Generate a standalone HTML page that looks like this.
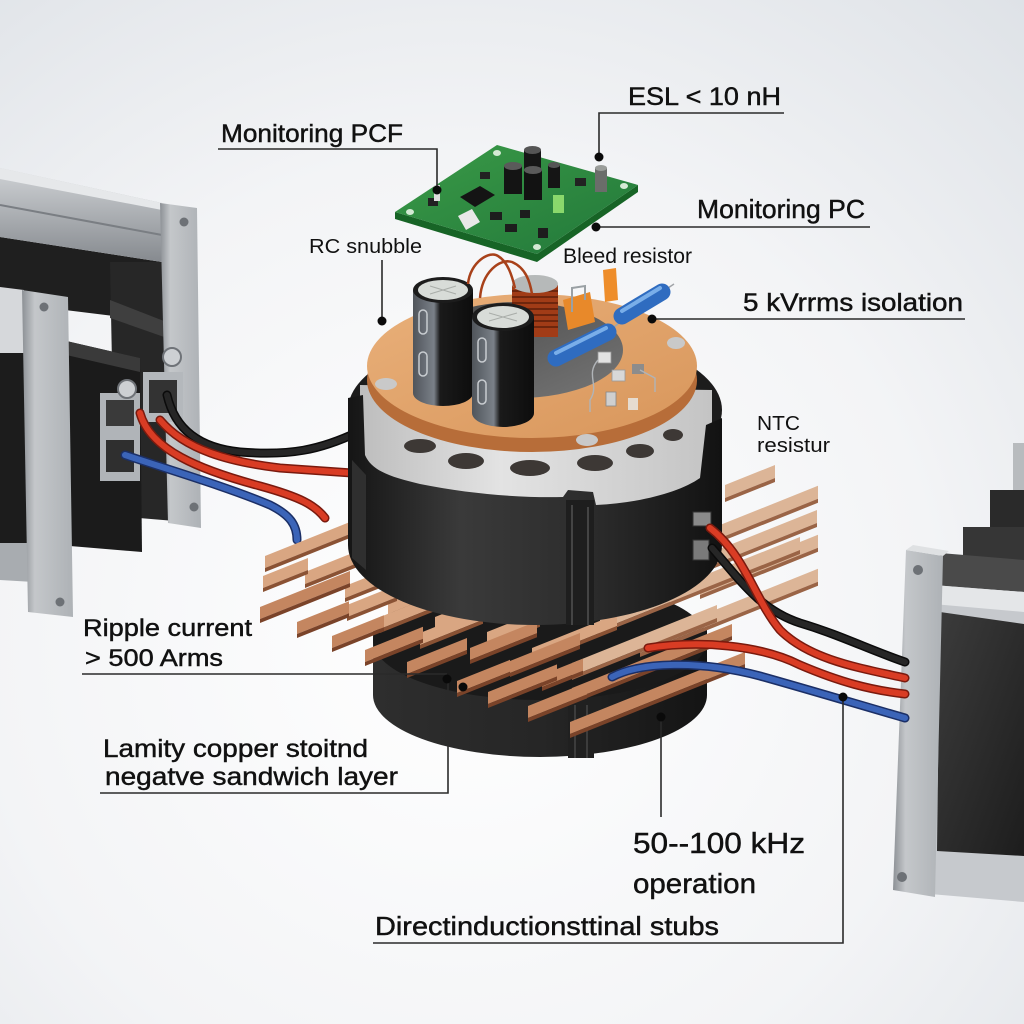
<!DOCTYPE html>
<html><head><meta charset="utf-8">
<style>
html,body{margin:0;padding:0;width:1024px;height:1024px;overflow:hidden;background:#f3f4f6;}
svg{display:block;}
text{font-family:"Liberation Sans",Arial,sans-serif;fill:#111;}
</style></head><body>
<svg width="1024" height="1024" viewBox="0 0 1024 1024" xmlns="http://www.w3.org/2000/svg">
<defs>
<radialGradient id="bg" cx="0.45" cy="0.62" r="0.85">
 <stop offset="0" stop-color="#ffffff"/>
 <stop offset="0.55" stop-color="#f3f4f6"/>
 <stop offset="1" stop-color="#dde1e6"/>
</radialGradient>
<linearGradient id="rail" x1="0" y1="0" x2="0" y2="1">
 <stop offset="0" stop-color="#d0d3d6"/><stop offset="1" stop-color="#868a8f"/>
</linearGradient>
<linearGradient id="plate" x1="0" y1="0" x2="1" y2="0">
 <stop offset="0" stop-color="#8c9095"/><stop offset="0.25" stop-color="#c4c7ca"/><stop offset="1" stop-color="#aeb2b6"/>
</linearGradient>
<linearGradient id="band" x1="0" y1="0" x2="1" y2="0">
 <stop offset="0" stop-color="#151515"/><stop offset="0.3" stop-color="#3a3a3a"/><stop offset="0.65" stop-color="#2c2c2c"/><stop offset="1" stop-color="#121212"/>
</linearGradient>
<linearGradient id="lower" x1="0" y1="0" x2="1" y2="0">
 <stop offset="0" stop-color="#2e2e2e"/><stop offset="0.5" stop-color="#262626"/><stop offset="1" stop-color="#141414"/>
</linearGradient>
<linearGradient id="foam" x1="0" y1="0" x2="1" y2="0">
 <stop offset="0" stop-color="#bdbdbd"/><stop offset="0.4" stop-color="#e3e3e3"/><stop offset="1" stop-color="#c4c4c4"/>
</linearGradient>
<linearGradient id="ring" x1="0" y1="0" x2="1" y2="1">
 <stop offset="0" stop-color="#e9b07a"/><stop offset="1" stop-color="#d8965b"/>
</linearGradient>
<linearGradient id="hole" x1="0" y1="0" x2="1" y2="1">
 <stop offset="0" stop-color="#474747"/><stop offset="1" stop-color="#767676"/>
</linearGradient>
<linearGradient id="pcb" x1="0" y1="0" x2="1" y2="1">
 <stop offset="0" stop-color="#3a9a47"/><stop offset="1" stop-color="#22783a"/>
</linearGradient>
<linearGradient id="cap" x1="0" y1="0" x2="1" y2="0">
 <stop offset="0" stop-color="#50555b"/><stop offset="0.35" stop-color="#7a8088"/><stop offset="0.45" stop-color="#1a1a1a"/><stop offset="1" stop-color="#0d0d0d"/>
</linearGradient>
<linearGradient id="panel" x1="0" y1="0" x2="1" y2="1">
 <stop offset="0" stop-color="#3c3c3c"/><stop offset="1" stop-color="#1d1d1d"/>
</linearGradient>
<g id="barA"><path d="M0,0 L1,0 L1,12 L0,12 Z" fill="#d9a682"/><path d="M0,12 L1,12 L1,16 L0,16 Z" fill="#8a5234"/></g>
<g id="barB"><path d="M0,0 L1,0 L1,12 L0,12 Z" fill="#c48660"/><path d="M0,12 L1,12 L1,16 L0,16 Z" fill="#7a4329"/></g>
<g id="barC"><path d="M0,0 L1,0 L1,13 L0,13 Z" fill="#dcb597"/><path d="M0,13 L1,13 L1,17 L0,17 Z" fill="#9a6446"/></g>
</defs>

<rect width="1024" height="1024" fill="url(#bg)"/>

<!-- LEFT EQUIPMENT -->
<polygon points="0,237 162,262 162,322 0,302" fill="#1f1f1f"/>
<polygon points="0,168 162,203 162,262 0,237" fill="url(#rail)"/>
<polygon points="0,168 162,203 162,210 0,179" fill="#e6e8ea"/>
<line x1="0" y1="205" x2="162" y2="235" stroke="#7a7e83" stroke-width="2"/>
<polygon points="0,287 24,290 24,353 0,353" fill="#d6d8db"/>
<polygon points="0,353 30,353 30,543 0,543" fill="#1c1c1c"/>
<polygon points="0,543 34,543 34,582 0,580" fill="#a8acb0"/>
<polygon points="110,262 162,262 187,330 187,522 115,516" fill="#272727"/>
<polygon points="110,300 187,330 187,345 110,318" fill="#3f3f3f"/>
<polygon points="160,203 197,208 201,528 168,523" fill="url(#plate)"/>
<circle cx="184" cy="222" r="4.5" fill="#6d7176"/>
<circle cx="194" cy="507" r="4.5" fill="#6d7176"/>
<polygon points="62,340 140,358 142,552 70,546" fill="#1b1b1b"/>
<polygon points="62,340 140,358 140,372 62,354" fill="#3a3a3a"/>
<polygon points="22,290 68,297 73,617 28,612" fill="url(#plate)"/>
<circle cx="44" cy="307" r="4.5" fill="#6d7176"/>
<circle cx="60" cy="602" r="4.5" fill="#6d7176"/>
<rect x="100" y="393" width="40" height="88" fill="#b0b4b8"/>
<rect x="106" y="400" width="28" height="26" fill="#3a3a3a"/>
<rect x="106" y="440" width="28" height="32" fill="#2f2f2f"/>
<rect x="143" y="372" width="40" height="50" fill="#b4b8bc"/>
<rect x="149" y="380" width="28" height="33" fill="#333"/>
<circle cx="127" cy="389" r="9" fill="#cdd0d3" stroke="#6f7378" stroke-width="2"/>
<circle cx="172" cy="357" r="9" fill="#cdd0d3" stroke="#6f7378" stroke-width="2"/>

<!-- RIGHT EQUIPMENT -->
<rect x="1013" y="443" width="11" height="48" fill="#b8bbbe"/>
<polygon points="990,490 1024,490 1024,540 990,535" fill="#2a2a2a"/>
<polygon points="963,527 1024,527 1024,572 963,566" fill="#363636"/>
<polygon points="940,553 1024,560 1024,592 940,586" fill="#4a4a4a"/>
<polygon points="933,585 1024,592 1024,902 930,894" fill="#c6c9cd"/>
<polygon points="933,585 1024,592 1024,612 933,604" fill="#e4e6e8"/>
<polygon points="940,612 1024,624 1024,856 937,851" fill="url(#panel)"/>
<polygon points="906,550 943,556 935,897 893,890" fill="url(#plate)"/>
<polygon points="906,550 943,556 949,551 913,545" fill="#dfe1e3"/>
<circle cx="918" cy="570" r="5" fill="#6d7176"/>
<circle cx="902" cy="877" r="5" fill="#6d7176"/>

<!-- LOWER CYLINDER -->
<path d="M373,630 L373,695 A167 62 0 0 0 707,695 L707,630 Z" fill="url(#lower)"/>
<ellipse cx="540" cy="640" rx="167" ry="60" fill="#1a1a1a"/>
<rect x="568" y="700" width="26" height="58" fill="#202020"/>
<line x1="575" y1="705" x2="575" y2="758" stroke="#3c3c3c" stroke-width="2"/>
<line x1="587" y1="705" x2="587" y2="758" stroke="#3c3c3c" stroke-width="2"/>

<!-- LEFT WIRES -->
<g fill="none" stroke-linecap="round">
<path d="M167,395 C175,430 200,448 240,452 C290,456 320,450 358,432" stroke="#0b0b0b" stroke-width="9"/>
<path d="M167,395 C175,430 200,448 240,452 C290,456 320,450 358,432" stroke="#262626" stroke-width="6"/>
<path d="M160,420 C185,450 230,462 280,468 L352,473" stroke="#7a1a0e" stroke-width="9"/>
<path d="M160,420 C185,450 230,462 280,468 L352,473" stroke="#d93c24" stroke-width="6"/>
<path d="M140,413 C150,450 200,470 260,486 C300,497 315,505 325,518" stroke="#7a1a0e" stroke-width="9"/>
<path d="M140,413 C150,450 200,470 260,486 C300,497 315,505 325,518" stroke="#d93c24" stroke-width="6"/>
<path d="M125,455 C170,470 230,488 270,505 C290,515 297,525 297,540" stroke="#1b2f66" stroke-width="9"/>
<path d="M125,455 C170,470 230,488 270,505 C290,515 297,525 297,540" stroke="#3b64b8" stroke-width="6"/>
</g>

<!-- COPPER BARS (matrix(L,-0.4L,0,1,x,y)) -->
<use href="#barC" transform="matrix(50,-20,0,1,725,485)"/>
<use href="#barC" transform="matrix(98,-39.2,0,1,720,525)"/>
<use href="#barA" transform="matrix(88,-35.2,0,1,265,556)"/>
<use href="#barC" transform="matrix(105,-42,0,1,712,552)"/>
<use href="#barA" transform="matrix(65,-26,0,1,305,572)"/>
<use href="#barA" transform="matrix(45,-18,0,1,263,576)"/>
<use href="#barC" transform="matrix(118,-47.2,0,1,700,582)"/>
<use href="#barA" transform="matrix(45,-18,0,1,345,586)"/>
<use href="#barA" transform="matrix(36,-14.4,0,1,388,602)"/>
<use href="#barB" transform="matrix(90,-36,0,1,260,607)"/>
<use href="#barA" transform="matrix(50,-20,0,1,347,605)"/>
<use href="#barC" transform="matrix(200,-80,0,1,600,617)"/>
<use href="#barA" transform="matrix(48,-19.2,0,1,435,617)"/>
<use href="#barA" transform="matrix(57,-22.8,0,1,380,617)"/>
<use href="#barB" transform="matrix(52,-20.8,0,1,297,622)"/>
<use href="#barA" transform="matrix(53,-21.2,0,1,487,632)"/>
<use href="#barA" transform="matrix(63,-25.2,0,1,420,633)"/>
<use href="#barB" transform="matrix(52,-20.8,0,1,332,636)"/>
<use href="#barC" transform="matrix(178,-71.2,0,1,640,640)"/>
<use href="#barA" transform="matrix(85,-34,0,1,532,648)"/>
<use href="#barB" transform="matrix(67,-26.8,0,1,470,648)"/>
<use href="#barB" transform="matrix(58,-23.2,0,1,365,650)"/>
<use href="#barB" transform="matrix(70,-28,0,1,510,661)"/>
<use href="#barB" transform="matrix(60,-24,0,1,407,662)"/>
<use href="#barC" transform="matrix(145,-58,0,1,572,663)"/>
<use href="#barB" transform="matrix(41,-16.4,0,1,542,675)"/>
<use href="#barB" transform="matrix(53,-21.2,0,1,457,681)"/>
<use href="#barB" transform="matrix(160,-64,0,1,572,688)"/>
<use href="#barB" transform="matrix(69,-27.6,0,1,488,692)"/>
<use href="#barB" transform="matrix(59,-23.6,0,1,528,706)"/>
<use href="#barB" transform="matrix(175,-70,0,1,570,722)"/>

<!-- UPPER CASING -->
<ellipse cx="535" cy="410" rx="187" ry="80" fill="#1c1c1c"/>
<path d="M360,385 L360,470 A176 42 0 0 0 712,470 L712,390 Z" fill="url(#foam)"/>
<ellipse cx="420" cy="446" rx="16" ry="7" fill="#3d3835"/>
<ellipse cx="466" cy="461" rx="18" ry="8" fill="#3d3835"/>
<ellipse cx="530" cy="468" rx="20" ry="8" fill="#3d3835"/>
<ellipse cx="595" cy="463" rx="18" ry="8" fill="#3d3835"/>
<ellipse cx="640" cy="451" rx="14" ry="7" fill="#3d3835"/>
<ellipse cx="673" cy="435" rx="10" ry="6" fill="#3d3835"/>
<path d="M348,398 L363,395 L365,455 C372,472 395,478 420,484 C470,494 520,498 563,497 L568,490 L593,492 L596,505 C640,503 680,492 700,478 L706,425 L722,418 L722,545 A187 80 0 0 1 348,545 Z" fill="url(#band)"/>
<path d="M352,460 L366,475 L366,570 L352,558 Z" fill="#2f2f2f"/>
<rect x="566" y="500" width="28" height="125" fill="#1e1e1e"/>
<line x1="572" y1="505" x2="572" y2="625" stroke="#444" stroke-width="2"/>
<line x1="588" y1="507" x2="588" y2="625" stroke="#444" stroke-width="2"/>

<!-- ORANGE RING -->
<ellipse cx="532" cy="380" rx="165" ry="72" fill="#b76d39"/>
<ellipse cx="532" cy="366" rx="165" ry="72" fill="url(#ring)"/>
<ellipse cx="386" cy="384" rx="11" ry="6" fill="#c9c9c9"/>
<ellipse cx="676" cy="343" rx="9" ry="6" fill="#c9c9c9"/>
<ellipse cx="587" cy="440" rx="11" ry="6" fill="#c9c9c9"/>
<ellipse cx="518" cy="350" rx="105" ry="48" fill="url(#hole)"/>

<!-- components on ring -->
<rect x="512" y="285" width="46" height="52" fill="#a13c17"/>
<g stroke="#5e1e0a" stroke-width="1.6">
<line x1="512" y1="291" x2="558" y2="291"/><line x1="512" y1="297" x2="558" y2="297"/><line x1="512" y1="303" x2="558" y2="303"/><line x1="512" y1="309" x2="558" y2="309"/><line x1="512" y1="315" x2="558" y2="315"/><line x1="512" y1="321" x2="558" y2="321"/><line x1="512" y1="327" x2="558" y2="327"/>
</g>
<ellipse cx="535" cy="284" rx="23" ry="9" fill="#b6b9b9"/>
<polygon points="563,300 590,292 595,322 568,330" fill="#e8892a"/>
<polygon points="603,270 616,268 618,300 605,302" fill="#ee8d2a"/>
<path d="M572,312 L572,288 L585,286 L585,300" fill="none" stroke="#9aa0a4" stroke-width="2"/>
<!-- cap 1 -->
<path d="M413,290 L413,393 A30 13 0 0 0 473,393 L473,290 Z" fill="url(#cap)"/>
<ellipse cx="443" cy="290" rx="30" ry="13" fill="#1c1c1c"/>
<ellipse cx="443" cy="290" rx="25" ry="10" fill="#d8dcd8"/>
<line x1="430" y1="286" x2="456" y2="294" stroke="#a9ada9" stroke-width="1"/>
<line x1="430" y1="294" x2="456" y2="286" stroke="#a9ada9" stroke-width="1"/>
<rect x="419" y="310" width="8" height="24" rx="4" fill="none" stroke="#c8ccd0" stroke-width="1.5"/>
<rect x="419" y="352" width="8" height="24" rx="4" fill="none" stroke="#c8ccd0" stroke-width="1.5"/>
<!-- cap 2 -->
<path d="M472,317 L472,413 A31 14 0 0 0 534,413 L534,317 Z" fill="url(#cap)"/>
<ellipse cx="503" cy="317" rx="31" ry="14" fill="#1c1c1c"/>
<ellipse cx="503" cy="317" rx="26" ry="11" fill="#d8dcd8"/>
<line x1="489" y1="313" x2="517" y2="321" stroke="#a9ada9" stroke-width="1"/>
<line x1="489" y1="321" x2="517" y2="313" stroke="#a9ada9" stroke-width="1"/>
<rect x="478" y="338" width="8" height="24" rx="4" fill="none" stroke="#c8ccd0" stroke-width="1.5"/>
<rect x="478" y="380" width="8" height="24" rx="4" fill="none" stroke="#c8ccd0" stroke-width="1.5"/>
<!-- blue resistors -->
<line x1="610" y1="330" x2="628" y2="316" stroke="#a0a4a8" stroke-width="1.5"/>
<line x1="662" y1="292" x2="674" y2="284" stroke="#a0a4a8" stroke-width="1.5"/>
<line x1="622" y1="316" x2="662" y2="292" stroke="#2f6cc0" stroke-width="17" stroke-linecap="round"/>
<line x1="622" y1="311" x2="660" y2="288" stroke="#79aee9" stroke-width="4" stroke-linecap="round"/>
<line x1="556" y1="358" x2="608" y2="332" stroke="#2f6cc0" stroke-width="17" stroke-linecap="round"/>
<line x1="556" y1="353" x2="606" y2="328" stroke="#79aee9" stroke-width="4" stroke-linecap="round"/>
<!-- small white parts -->
<rect x="598" y="352" width="13" height="11" fill="#e2e2e2" stroke="#999" stroke-width="0.8"/>
<rect x="612" y="370" width="13" height="11" fill="#d8d8d8" stroke="#999" stroke-width="0.8"/>
<rect x="632" y="364" width="12" height="10" fill="#8c8c8c"/>
<rect x="606" y="392" width="10" height="14" fill="#cfcfcf" stroke="#888" stroke-width="0.8"/>
<rect x="628" y="398" width="10" height="12" fill="#e6dcd0"/>
<path d="M598,360 C585,375 600,385 590,400 L590,412" fill="none" stroke="#b0b4b8" stroke-width="1.4"/>
<path d="M640,370 L655,378 L655,392" fill="none" stroke="#b0b4b8" stroke-width="1.4"/>
<!-- copper wire loops -->
<path d="M468,284 C470,262 490,250 498,256 C508,262 512,276 515,288" fill="none" stroke="#a8411a" stroke-width="2.5"/>
<path d="M480,298 C482,272 500,258 512,262 C526,268 530,282 532,294" fill="none" stroke="#a8411a" stroke-width="2.5"/>

<!-- PCB -->
<polygon points="395,212 537,254 638,185 638,192 537,262 395,219" fill="#176426"/>
<polygon points="395,212 497,145 638,185 537,254" fill="url(#pcb)"/>
<ellipse cx="410" cy="212" rx="4" ry="3" fill="#d4ead4"/>
<ellipse cx="497" cy="153" rx="4" ry="3" fill="#d4ead4"/>
<ellipse cx="624" cy="186" rx="4" ry="3" fill="#d4ead4"/>
<ellipse cx="537" cy="247" rx="4" ry="3" fill="#d4ead4"/>
<polygon points="460,197 480,186 495,195 475,207" fill="#141414"/>
<polygon points="458,216 472,209 480,222 466,230" fill="#e8e8e8"/>
<rect x="428" y="198" width="10" height="8" fill="#222"/>
<rect x="490" y="212" width="12" height="8" fill="#1d1d1d"/>
<rect x="505" y="224" width="12" height="8" fill="#1d1d1d"/>
<rect x="520" y="210" width="10" height="8" fill="#1d1d1d"/>
<rect x="538" y="228" width="10" height="10" fill="#1d1d1d"/>
<rect x="480" y="172" width="10" height="7" fill="#222"/>
<rect x="575" y="178" width="11" height="8" fill="#222"/>
<rect x="434" y="185" width="6" height="16" fill="#ddd"/>
<rect x="524" y="150" width="17" height="28" fill="#161616"/>
<ellipse cx="532.5" cy="150" rx="8.5" ry="4" fill="#555"/>
<rect x="504" y="166" width="18" height="28" fill="#141414"/>
<ellipse cx="513" cy="166" rx="9" ry="4" fill="#5a5a5a"/>
<rect x="524" y="170" width="18" height="30" fill="#121212"/>
<ellipse cx="533" cy="170" rx="9" ry="4" fill="#5a5a5a"/>
<rect x="548" y="165" width="12" height="23" fill="#151515"/>
<ellipse cx="554" cy="165" rx="6" ry="3" fill="#555"/>
<rect x="553" y="195" width="11" height="18" fill="#8ad86c"/>
<rect x="595" y="168" width="12" height="24" fill="#6a6d6a"/>
<ellipse cx="601" cy="168" rx="6" ry="3" fill="#9a9d9a"/>

<!-- NTC sensor -->
<rect x="693" y="512" width="18" height="14" fill="#8a8a8a" stroke="#333" stroke-width="1"/>
<rect x="693" y="540" width="16" height="20" fill="#7a7a7a" stroke="#333" stroke-width="1"/>

<!-- RIGHT WIRES -->
<g fill="none" stroke-linecap="round">
<path d="M712,548 C740,580 760,610 800,623 C840,635 870,650 905,662" stroke="#0b0b0b" stroke-width="9"/>
<path d="M712,548 C740,580 760,610 800,623 C840,635 870,650 905,662" stroke="#262626" stroke-width="6"/>
<path d="M710,528 C745,555 755,600 780,630 C810,660 860,668 905,678" stroke="#7a1a0e" stroke-width="9"/>
<path d="M710,528 C745,555 755,600 780,630 C810,660 860,668 905,678" stroke="#d93c24" stroke-width="6"/>
<path d="M648,648 C700,640 760,645 800,665 C840,682 870,690 905,694" stroke="#7a1a0e" stroke-width="9"/>
<path d="M648,648 C700,640 760,645 800,665 C840,682 870,690 905,694" stroke="#d93c24" stroke-width="6"/>
<path d="M612,677 C640,662 700,660 760,676 C810,690 860,705 905,718" stroke="#1b2f66" stroke-width="9"/>
<path d="M612,677 C640,662 700,660 760,676 C810,690 860,705 905,718" stroke="#3b64b8" stroke-width="6"/>
</g>

<!-- LEADER LINES -->
<g fill="none" stroke="#2a2a2a" stroke-width="1.6">
<path d="M218,149 H437 V190"/>
<path d="M784,113 H599 V157"/>
<path d="M870,227 H596"/>
<path d="M382,260 V321"/>
<path d="M965,319 H652"/>
<path d="M82,674 H447"/>
<path d="M100,793 H448 V680"/>
<path d="M661,817 V717"/>
<path d="M373,943 H843 V697"/>
</g>
<g fill="#0a0a0a">
<circle cx="437" cy="190" r="4.5"/>
<circle cx="599" cy="157" r="4.5"/>
<circle cx="596" cy="227" r="4.5"/>
<circle cx="382" cy="321" r="4.5"/>
<circle cx="652" cy="319" r="4.5"/>
<circle cx="447" cy="679" r="4.5"/>
<circle cx="463" cy="687" r="4.5"/>
<circle cx="661" cy="717" r="4.5"/>
<circle cx="843" cy="697" r="4.5"/>
</g>

<!-- LABELS -->
<g stroke="#111" stroke-width="0.45">
<text x="221" y="142" font-size="25" textLength="182" lengthAdjust="spacingAndGlyphs">Monitoring PCF</text>
<text x="628" y="105" font-size="25" textLength="153" lengthAdjust="spacingAndGlyphs">ESL &lt; 10 nH</text>
<text x="697" y="218" font-size="26" textLength="168" lengthAdjust="spacingAndGlyphs">Monitoring PC</text>
<text x="743" y="311" font-size="25" textLength="220" lengthAdjust="spacingAndGlyphs">5 kVrrms isolation</text>
<text x="83" y="636" font-size="24" textLength="169" lengthAdjust="spacingAndGlyphs">Ripple current</text>
<text x="85" y="666" font-size="24" textLength="138" lengthAdjust="spacingAndGlyphs">&gt; 500 Arms</text>
<text x="103" y="757" font-size="25" textLength="265" lengthAdjust="spacingAndGlyphs">Lamity copper stoitnd</text>
<text x="105" y="785" font-size="25" textLength="293" lengthAdjust="spacingAndGlyphs">negatve sandwich layer</text>
<text x="633" y="853" font-size="29" textLength="172" lengthAdjust="spacingAndGlyphs">50--100 kHz</text>
<text x="633" y="893" font-size="28" textLength="123" lengthAdjust="spacingAndGlyphs">operation</text>
<text x="375" y="935" font-size="26" textLength="344" lengthAdjust="spacingAndGlyphs">Directinductionsttinal stubs</text>
</g>
<text x="309" y="253" font-size="20" textLength="113" lengthAdjust="spacingAndGlyphs">RC snubble</text>
<text x="563" y="263" font-size="21" textLength="129" lengthAdjust="spacingAndGlyphs">Bleed resistor</text>
<text x="757" y="430" font-size="20" textLength="43" lengthAdjust="spacingAndGlyphs">NTC</text>
<text x="757" y="452" font-size="20" textLength="73" lengthAdjust="spacingAndGlyphs">resistur</text>
</svg>
</body></html>
